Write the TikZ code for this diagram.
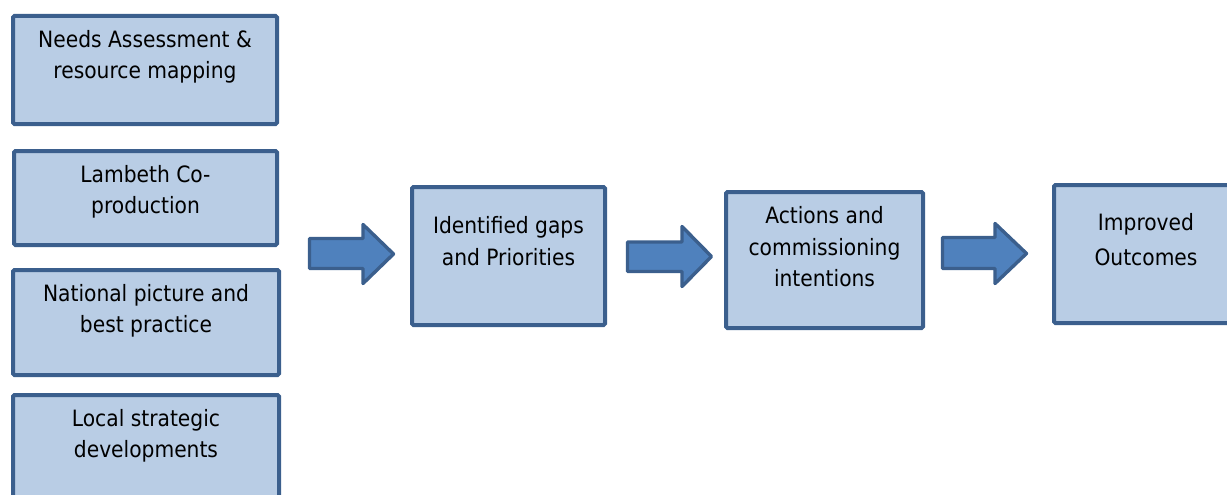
\documentclass[tikz,border=0pt]{standalone}
\usepackage{fontspec}
\setmainfont{DejaVu Sans Condensed}
\definecolor{boxfill}{HTML}{B9CDE5}
\definecolor{boxline}{HTML}{3B5F8D}
\definecolor{arrfill}{HTML}{4F81BD}
\begin{document}
\begin{tikzpicture}[x=1pt,y=-1pt,
  box/.style={draw=boxline,fill=boxfill,line width=4pt,rounded corners=1.5pt},
  txt/.style={align=center,inner sep=0pt,anchor=base,font=\fontsize{22.5}{31.5}\selectfont},
  blockarrow/.style={draw=boxline,fill=arrfill,line width=3.4pt,line join=round}]
\useasboundingbox (0,0) rectangle (1227,495);
\clip (0,0) rectangle (1227,495);
% boxes
\draw[box] (13,16) rectangle (277,124);
\draw[box] (14,151) rectangle (277,245);
\draw[box] (13,270) rectangle (279,375);
\draw[box] (13,395) rectangle (279,510);
\draw[box] (412,187) rectangle (605,325);
\draw[box] (726,192) rectangle (923,328);
\draw[box] (1054,185) rectangle (1240,323);
% texts (anchor = baseline of last line)
\node[txt] (t1) at (145,78.5) {Needs Assessment \&\\resource mapping};
\node[txt] (t2) at (145.5,213.5) {Lambeth Co-\\production};
\node[txt] (t3) at (146,332.5) {National picture and\\best practice};
\node[txt] (t4) at (146,457.5) {Local strategic\\developments};
\node[txt] (t5) at (508.5,265) {Identified gaps\\and Priorities};
\node[txt] (t6) at (824.5,286.5) {Actions and\\commissioning\\intentions};
\node[txt,font=\fontsize{22.5}{35.5}\selectfont] (t7) at (1146,265.5) {Improved\\Outcomes};
% block arrows
\draw[blockarrow] (309.5,238.5) -- (363,238.5) -- (363,224.5) -- (393.5,254)
  -- (363,283.5) -- (363,268.5) -- (309.5,268.5) -- cycle;
\draw[blockarrow] (627.5,242) -- (682,242) -- (682,226.5) -- (711.5,256.5)
  -- (682,286.5) -- (682,271.5) -- (627.5,271.5) -- cycle;
\draw[blockarrow] (942.5,237.5) -- (995,237.5) -- (995,223.5) -- (1026.5,253.5)
  -- (995,283.5) -- (995,268.5) -- (942.5,268.5) -- cycle;
\end{tikzpicture}
\end{document}
